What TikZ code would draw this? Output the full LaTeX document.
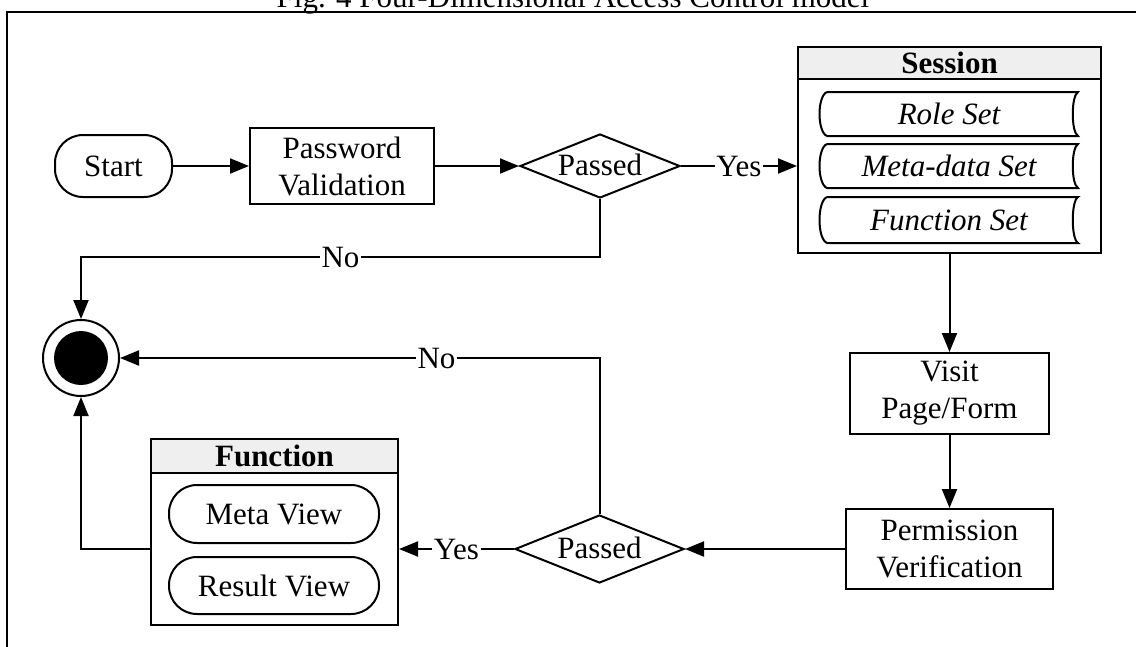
\documentclass[tikz,border=0pt]{standalone}
\usepackage{fontspec}
\setmainfont{Liberation Serif}
\usetikzlibrary{shapes.geometric,arrows.meta}
\definecolor{hdr}{HTML}{EFEFEF}
\begin{document}
\begin{tikzpicture}[x=1pt,y=-1pt,
  every node/.style={font=\fontsize{31}{37}\selectfont},
  ln/.style={line width=2pt},
  arr/.style={ln,-{Triangle[length=19pt,width=15pt]}},
  box/.style={draw,ln,rectangle,align=center,inner sep=0pt},
  stad/.style={draw,ln,rectangle,rounded corners=28pt,align=center,inner sep=0pt},
  dia/.style={draw,ln,diamond,shape aspect=2.5,inner sep=0pt,text height=20pt,text depth=2pt},
  lbl/.style={fill=white,inner sep=1.5pt},
  hd/.style={draw,ln,fill=hdr,inner sep=0pt,font=\fontsize{31}{37}\selectfont\bfseries}
]
\useasboundingbox (0,0) rectangle (1136,646);
\clip (0,0) rectangle (1136,646);
% caption and frame
\node[anchor=base,inner sep=0pt] (cap) at (573,7) {Fig. 4 Four-Dimensional Access Control model};
\draw[line width=2.5pt] (7,660) -- (7,12) -- (1150,12);

% nodes
\node[stad,minimum width=117pt,minimum height=62pt] (start) at (113.5,166) {Start};
\node[box,minimum width=184pt,minimum height=76pt] (pv) at (342,166) {Password\\Validation};
\node[dia,minimum width=160pt,minimum height=64pt] (p1) at (600,166) {Passed};

\node[box,minimum width=303pt,minimum height=206pt] (session) at (949.5,150) {};
\node[hd,minimum width=303pt,minimum height=32pt] (shead) at (949.5,63) {Session};
\draw[ln] (827,92) -- (1078,92) .. controls (1071,96) and (1071,132) .. (1078,136) -- (827,136) .. controls (817,132) and (817,96) .. (827,92);
\draw[ln] (827,144) -- (1078,144) .. controls (1071,148) and (1071,184) .. (1078,188) -- (827,188) .. controls (817,184) and (817,148) .. (827,144);
\draw[ln] (827,197) -- (1078,197) .. controls (1071,201) and (1071,239) .. (1078,243) -- (827,243) .. controls (817,239) and (817,201) .. (827,197);
\node[inner sep=0pt] (role) at (949,114) {\itshape Role Set};
\node[inner sep=0pt] (meta) at (949,166) {\itshape Meta-data Set};
\node[inner sep=0pt] (fset) at (949,220) {\itshape Function Set};

\node[box,minimum width=199pt,minimum height=81pt] (visit) at (949.5,393.5) {Visit\\Page/Form};
\node[box,minimum width=207pt,minimum height=80pt] (perm) at (949.5,549) {Permission\\Verification};
\node[dia,minimum width=169pt,minimum height=68pt] (p2) at (599.5,549) {Passed};

\node[box,minimum width=247pt,minimum height=186pt] (func) at (274.5,532) {};
\node[hd,minimum width=247pt,minimum height=34pt] (fhead) at (274.5,456) {Function};
\node[stad,minimum width=210pt,minimum height=58pt] (mview) at (274,514) {Meta View};
\node[stad,minimum width=210pt,minimum height=57pt] (rview) at (274,585.5) {Result View};

\node[circle,draw,ln,minimum size=76pt,inner sep=0pt] (end) at (81,358) {};
\node[circle,fill=black,minimum size=54pt,inner sep=0pt] (endin) at (end) {};

\coordinate (n1) at (600,257);
\coordinate (n2) at (end.south |- p2.west);

% connectors
\draw[arr] (start) -- (pv);
\draw[arr] (pv) -- (p1);
\draw[arr] (p1.east) -- node[lbl] (yes1) {Yes} (p1.east -| session.west);
\draw[arr] (p1.south) -- (n1) -| node[lbl,pos=0.25] (no1) {No} (end.north);
\draw[arr] (session) -- (visit);
\draw[arr] (visit) -- (perm);
\draw[arr] (perm) -- (p2);
\draw[arr] (p2.north) |- node[lbl,pos=0.67] (no2) {No} (end.east);
\draw[arr] (p2.west) -- node[lbl] (yes2) {Yes} (p2.west -| func.east);
\draw[arr] (func.west |- p2.west) -- (n2) -- (end.south);
\end{tikzpicture}
\end{document}
